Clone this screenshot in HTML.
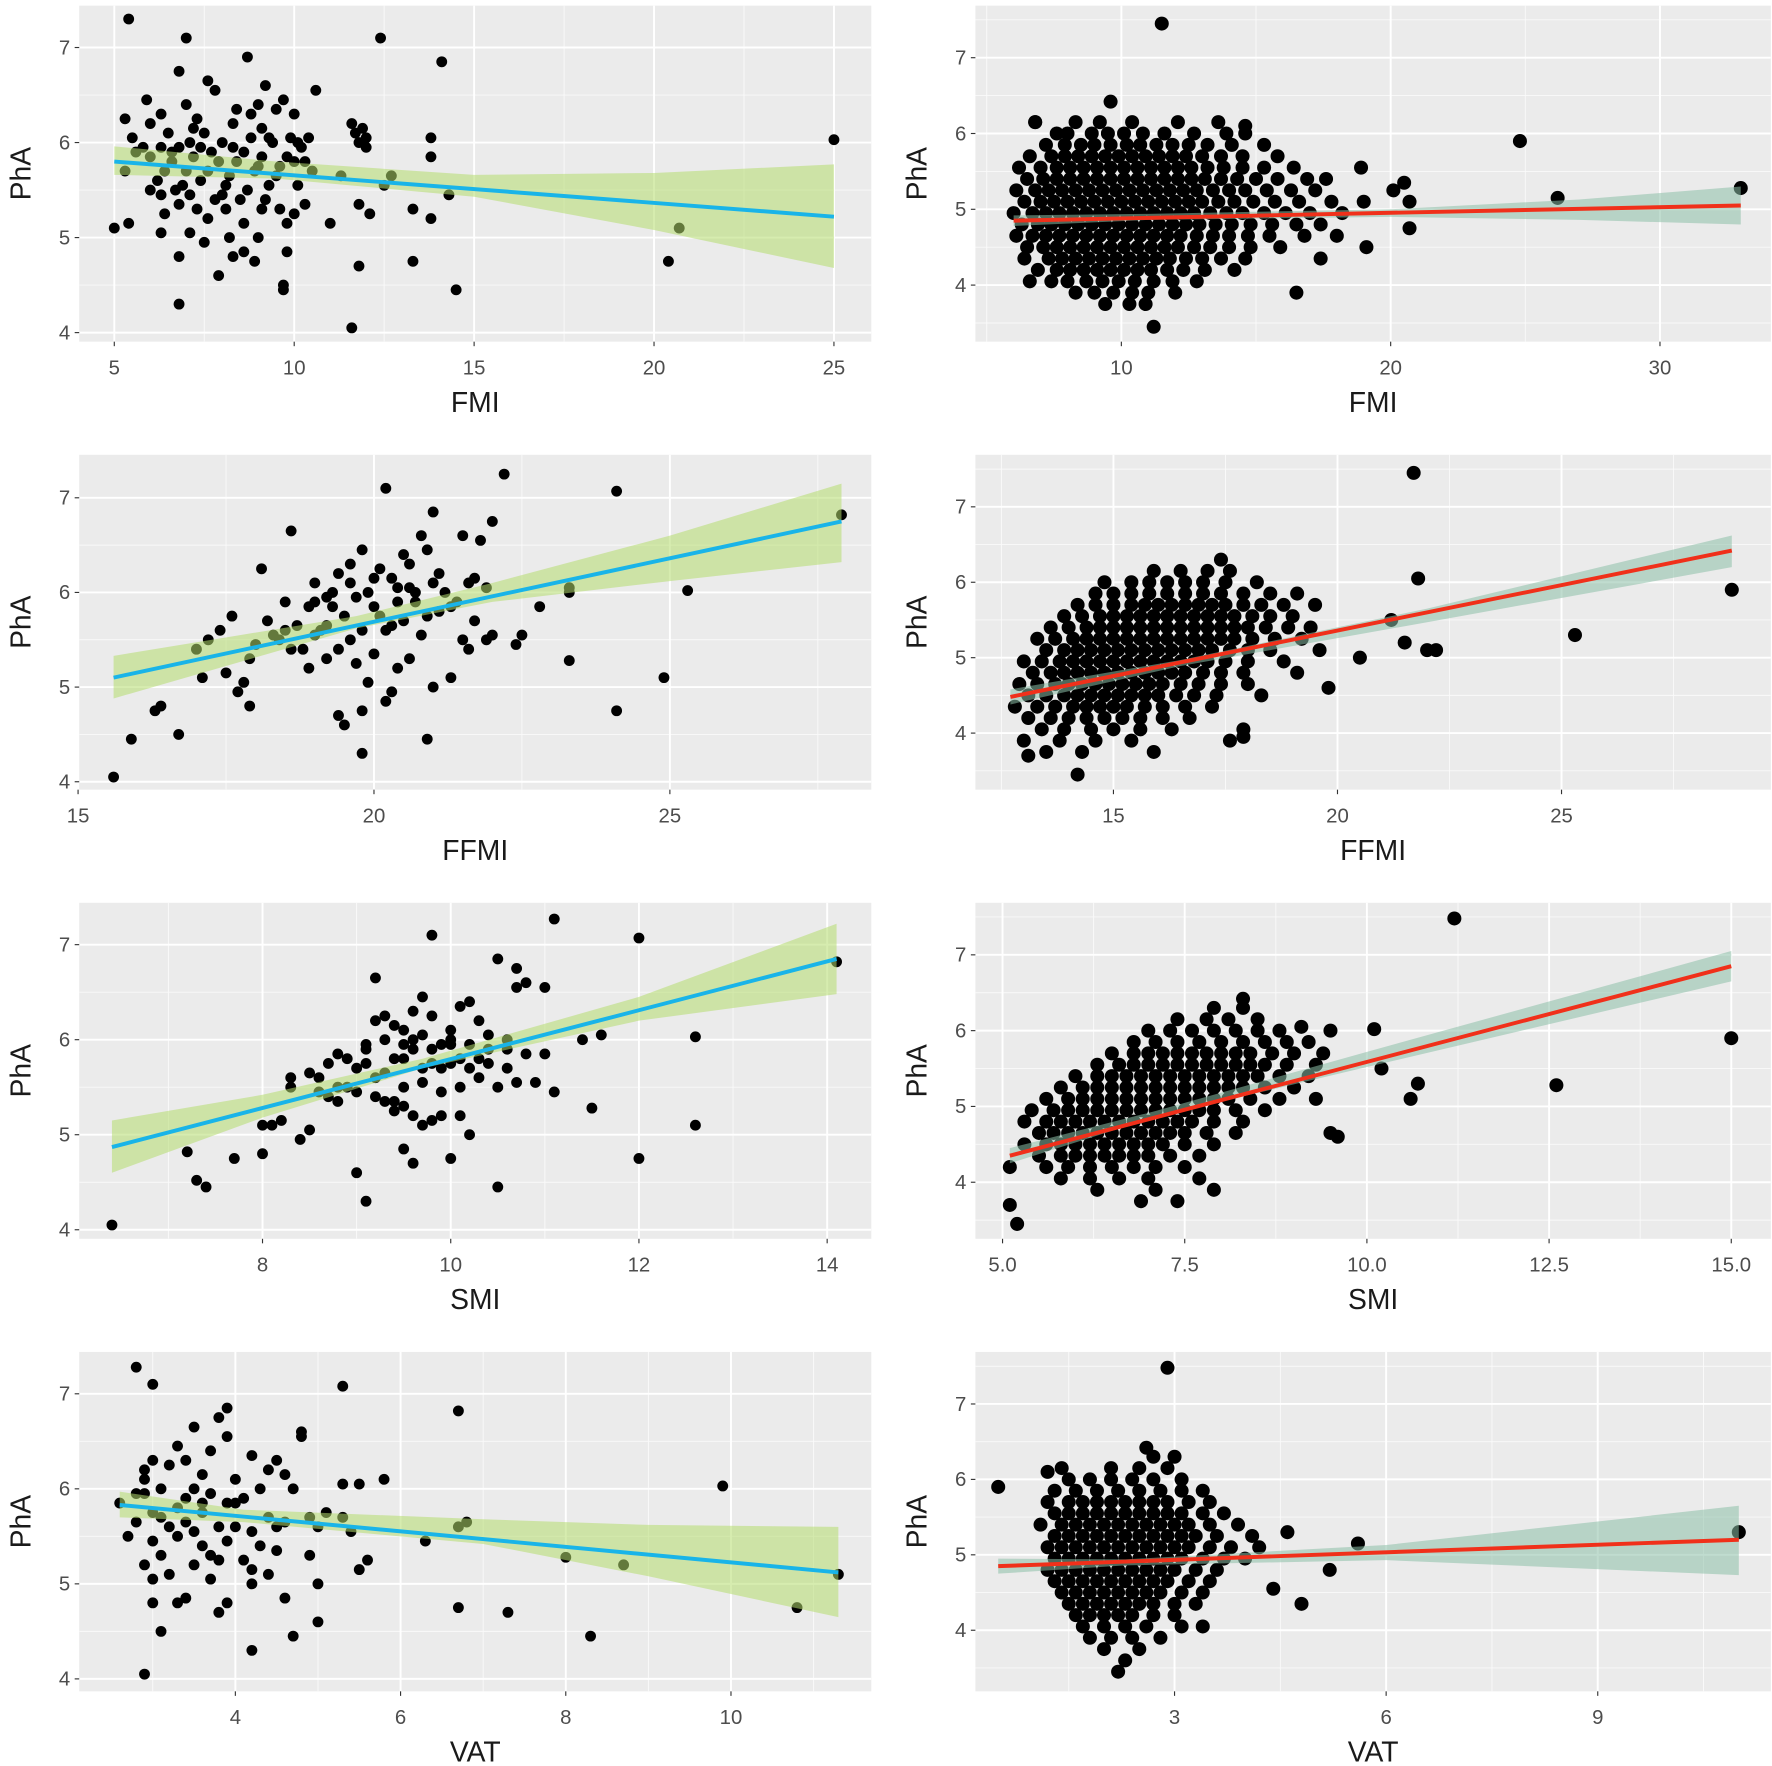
<!DOCTYPE html>
<html><head><meta charset="utf-8"><style>
html,body{margin:0;padding:0;background:#fff}
svg{display:block}
text{font-family:"Liberation Sans",Arial,sans-serif}
</style></head><body>
<svg id="chart" width="1772" height="1766" viewBox="0 0 1566 1561" preserveAspectRatio="none" xmlns="http://www.w3.org/2000/svg"></svg>
<script>
// ---------- DATA ----------
const yTicks = [4,5,6,7];
const fmiLTicks = [5,10,15,20,25];
const fmiRTicks = [10,20,30];
const ffmiLTicks = [15,20,25];
const ffmiRTicks = [15,20,25];
const smiLTicks = [8,10,12,14];
const smiRTicks = [5,7.5,10,12.5,15];
const vatLTicks = [4,6,8,10];
const vatRTicks = [3,6,9];

const fmiL = [[5.4,7.3],[7,7.1],[12.4,7.1],[14.1,6.85],[8.7,6.9],[6.8,6.75],[7.6,6.65],[7.8,6.55],[9.2,6.6],[9.7,6.45],[10.6,6.55],[5.9,6.45],[9.5,6.35],[10,6.3],[5.3,6.25],[6.3,6.3],[7.3,6.25],[8.3,6.2],[9.1,6.15],[11.6,6.2],[11.9,6.15],[12,6.05],[13.8,6.05],[11.8,6.0],[5.5,6.05],[6.5,6.1],[7.1,6.0],[7.5,6.1],[8.0,6.0],[8.8,6.05],[9.4,6.0],[10.4,6.05],[10.2,5.95],[6.3,5.95],[6.8,5.95],[7.7,5.9],[8.6,5.9],[9.8,5.85],[10.3,5.8],[13.8,5.85],[5.6,5.9],[6,5.85],[6.6,5.8],[7.2,5.85],[7.9,5.8],[8.4,5.8],[9.0,5.75],[9.6,5.75],[10,5.8],[5.3,5.7],[6.4,5.7],[7,5.7],[7.6,5.7],[8.2,5.65],[8.9,5.7],[9.5,5.65],[11.3,5.65],[12.7,5.65],[6.2,5.6],[6.9,5.55],[7.4,5.6],[8.1,5.55],[8.7,5.5],[9.3,5.55],[10.1,5.55],[12.5,5.55],[14.3,5.45],[6.3,5.45],[7.1,5.45],[7.8,5.4],[8.5,5.4],[9.2,5.4],[11.8,5.35],[6.8,5.35],[7.3,5.3],[8.1,5.3],[9.1,5.3],[10,5.25],[12.1,5.25],[13.3,5.3],[13.8,5.2],[6.4,5.25],[7.6,5.2],[8.6,5.15],[9.8,5.15],[11,5.15],[5.0,5.1],[5.4,5.15],[7.1,5.05],[7.5,4.95],[8.2,5.0],[9.0,5.0],[20.7,5.1],[6.3,5.05],[8.6,4.85],[9.8,4.85],[6.8,4.8],[8.3,4.8],[8.9,4.75],[11.8,4.7],[13.3,4.75],[20.4,4.75],[7.9,4.6],[9.7,4.5],[9.7,4.45],[14.5,4.45],[6.8,4.3],[11.6,4.05],[25,6.03],[6.6,5.9],[5.8,5.95],[9.9,6.05],[10.5,5.7],[7.4,5.95],[8.3,5.95],[9.1,5.85],[6,5.5],[6.7,5.5],[9.6,5.3],[10.3,5.35],[8.0,5.45],[9.0,6.4],[8.4,6.35],[7.0,6.4],[11.7,6.1],[12,5.95],[8.8,6.3],[6,6.2],[10.1,6.0],[7.2,6.15],[9.3,6.05]];
const fmiLLineX = [5,25], fmiLLineY = [5.8,5.22];
const fmiLBandX = [5,9.5,15,20,25], fmiLBandLo = [5.66,5.62,5.43,5.08,4.68], fmiLBandHi = [5.96,5.8,5.66,5.68,5.77];

const ffmiL = [[15.6,4.05],[15.9,4.45],[16.3,4.75],[16.4,4.8],[16.7,4.5],[17.1,5.1],[17.2,5.5],[17.4,5.6],[17.6,5.75],[17.5,5.15],[17.7,4.95],[17.8,5.05],[17.9,4.8],[18.0,5.45],[18.1,6.25],[18.4,5.5],[18.5,5.6],[18.6,6.65],[18.6,5.4],[18.8,5.4],[18.9,5.85],[19.0,5.55],[19.1,5.6],[19.2,5.95],[19.2,5.3],[19.3,6.0],[19.4,6.2],[19.5,5.75],[19.6,6.1],[19.6,5.5],[19.7,5.25],[19.8,6.45],[19.9,6.0],[20.0,5.85],[20.1,6.25],[20.2,5.6],[20.3,6.15],[20.4,6.05],[20.5,5.7],[20.6,6.3],[20.7,6.0],[20.8,5.55],[20.9,6.45],[21.0,6.1],[21.1,5.8],[21.2,6.0],[21.4,5.9],[21.5,6.6],[21.6,6.1],[21.8,6.55],[22.0,6.75],[22.2,7.25],[20.2,7.1],[21.0,6.85],[20.8,6.6],[18.9,5.2],[19.5,4.6],[19.8,4.3],[19.8,4.75],[20.2,4.85],[20.9,4.45],[21.0,5.0],[21.5,5.5],[22.4,5.45],[22.5,5.55],[22.8,5.85],[23.3,6.0],[23.3,5.28],[24.1,4.75],[24.1,7.07],[24.9,5.1],[25.3,6.02],[27.9,6.82],[23.3,6.05],[22.0,5.55],[21.7,5.7],[19.0,5.9],[18.7,5.65],[19.4,5.4],[20.0,5.35],[20.4,5.2],[20.6,5.3],[19.9,5.05],[20.3,5.65],[21.3,5.85],[21.9,5.5],[17.0,5.4],[17.9,5.3],[18.2,5.7],[19.6,6.3],[20.5,6.4],[20.0,6.15],[19.3,5.85],[18.5,5.9],[21.1,6.2],[20.7,5.9],[19.7,5.95],[20.1,5.75],[19.0,6.1],[21.3,5.1],[21.7,6.15],[20.4,5.9],[19.2,5.65],[20.9,5.75],[18.3,5.55],[19.8,5.6],[20.6,6.05],[21.9,6.05],[20.3,4.95],[19.4,4.7],[21.6,5.4]];
const ffmiLLineX = [15.6,27.9], ffmiLLineY = [5.1,6.75];
const ffmiLBandX = [15.6,19.7,22,25,27.9], ffmiLBandLo = [4.88,5.62,5.9,6.12,6.32], ffmiLBandHi = [5.33,5.75,6.1,6.6,7.15];

const smiL = [[6.4,4.05],[7.2,4.82],[7.3,4.52],[7.4,4.45],[7.7,4.75],[8.0,4.8],[8.0,5.1],[8.1,5.1],[8.2,5.15],[8.3,5.5],[8.3,5.6],[8.4,4.95],[8.5,5.05],[8.6,5.45],[8.6,5.6],[8.7,5.75],[8.8,5.35],[8.8,5.5],[8.9,5.8],[9.0,5.45],[9.0,4.6],[9.1,5.9],[9.1,4.3],[9.2,6.2],[9.2,5.6],[9.2,6.65],[9.3,5.35],[9.3,6.0],[9.4,5.8],[9.4,5.25],[9.5,6.1],[9.5,5.5],[9.5,4.85],[9.6,5.9],[9.6,5.2],[9.6,4.7],[9.7,6.05],[9.7,6.45],[9.7,5.7],[9.8,7.1],[9.8,6.25],[9.8,5.15],[9.9,5.95],[9.9,5.2],[10.0,6.0],[10.0,5.75],[10.0,4.75],[10.1,6.35],[10.1,5.5],[10.2,6.4],[10.2,5.0],[10.3,6.2],[10.3,5.8],[10.4,5.9],[10.5,6.85],[10.5,5.5],[10.5,4.45],[10.6,6.0],[10.7,6.55],[10.7,6.75],[10.7,5.55],[10.8,6.6],[10.9,5.55],[11.0,5.85],[11.0,6.55],[11.1,7.27],[11.1,5.45],[11.4,6.0],[11.5,5.28],[11.6,6.05],[12.0,7.07],[12.0,4.75],[12.6,6.03],[12.6,5.1],[14.1,6.82],[8.5,5.65],[8.9,5.5],[9.1,5.75],[9.3,5.65],[9.4,6.15],[9.5,5.95],[9.6,6.3],[9.9,5.7],[10.0,6.1],[10.1,5.8],[10.2,5.7],[10.4,6.05],[10.6,5.7],[9.2,5.4],[9.4,5.35],[9.7,5.55],[9.9,5.45],[10.1,5.2],[10.3,5.6],[8.7,5.4],[9.0,5.7],[9.5,5.8],[9.8,5.9],[10.0,5.95],[9.7,5.1],[9.5,5.3],[9.3,6.25],[10.6,5.9],[10.8,5.85],[9.6,6.0],[9.8,5.75],[10.2,5.95],[10.4,5.75],[9.1,5.95],[8.8,5.85]];
const smiLLineX = [6.4,14.1], smiLLineY = [4.87,6.85];
const smiLBandX = [6.4,8,9.7,12,14.1], smiLBandLo = [4.6,5.18,5.7,6.2,6.48], smiLBandHi = [5.15,5.42,5.8,6.45,7.22];

const vatL = [[2.8,7.28],[3.0,7.1],[5.3,7.08],[6.7,6.82],[3.9,6.85],[3.8,6.75],[3.5,6.65],[4.8,6.6],[4.8,6.55],[3.3,6.45],[3.9,6.55],[4.5,6.3],[4.2,6.35],[3.0,6.3],[2.9,6.2],[3.2,6.25],[3.6,6.15],[4.4,6.2],[5.3,6.05],[5.8,6.1],[5.5,6.05],[9.9,6.03],[2.6,5.85],[2.9,5.95],[3.1,6.0],[3.4,5.9],[3.7,5.95],[4.0,5.85],[4.3,6.0],[4.7,6.0],[3.0,5.75],[3.3,5.8],[3.6,5.75],[3.9,5.85],[4.1,5.9],[4.4,5.7],[4.9,5.7],[5.1,5.75],[5.3,5.7],[2.8,5.65],[3.2,5.6],[3.5,5.55],[3.8,5.6],[4.2,5.55],[4.6,5.65],[5.0,5.6],[5.4,5.55],[6.3,5.45],[6.7,5.6],[6.8,5.65],[2.7,5.5],[3.0,5.45],[3.3,5.5],[3.6,5.4],[3.9,5.45],[4.3,5.4],[4.5,5.35],[5.6,5.25],[3.1,5.3],[3.7,5.3],[4.1,5.25],[2.9,5.2],[3.2,5.1],[3.0,5.05],[3.7,5.05],[4.2,5.15],[5.5,5.15],[8.0,5.28],[8.7,5.2],[11.3,5.1],[3.0,4.8],[3.3,4.8],[3.9,4.8],[4.6,4.85],[3.8,4.7],[4.2,5.0],[6.7,4.75],[7.3,4.7],[3.1,4.5],[4.7,4.45],[5.0,4.6],[4.2,4.3],[8.3,4.45],[10.8,4.75],[2.9,4.05],[3.4,4.85],[3.5,6.0],[4.0,6.1],[3.4,6.3],[4.0,5.6],[3.8,5.25],[4.5,5.6],[2.8,5.95],[3.1,5.7],[3.4,5.65],[3.6,5.85],[4.9,5.3],[5.0,5.0],[4.4,5.1],[3.5,5.2],[2.9,6.1],[3.7,6.4],[4.6,6.15]];
const vatLLineX = [2.6,11.3], vatLLineY = [5.83,5.12];
const vatLBandX = [2.6,4.1,7,9,11.3], vatLBandLo = [5.7,5.65,5.42,5.08,4.65], vatLBandHi = [5.97,5.78,5.68,5.62,5.6];

const fmiRRowPhA = [6.15,6.0,5.85,5.7,5.55,5.4,5.25,5.1,4.95,4.8,4.65,4.5,4.35,4.2,4.05,3.9,3.75];
const fmiRRowX = [[6.8,8.3,9.2,10.4,12.1,13.6],[7.6,8.0,8.9,9.5,10.1,10.8,11.6,12.7,13.9,14.6],[7.2,7.9,8.5,9.0,9.6,10.2,10.7,11.3,11.9,12.5,13.2,14.1,15.3],[6.6,7.4,7.9,8.4,8.9,9.4,9.9,10.4,10.9,11.4,11.9,12.4,13.0,13.7,14.5,15.8],[6.2,7.0,7.6,8.1,8.6,9.1,9.6,10.1,10.6,11.1,11.6,12.1,12.6,13.2,13.8,14.5,15.3,16.4,18.9],[6.5,7.1,7.6,8.1,8.6,9.1,9.6,10.1,10.6,11.1,11.6,12.1,12.6,13.1,13.7,14.3,15.0,15.8,16.9,17.6],[6.1,6.8,7.3,7.8,8.3,8.8,9.3,9.8,10.3,10.8,11.3,11.8,12.3,12.8,13.4,14.0,14.6,15.4,16.3,17.2,20.1],[6.4,7.0,7.5,8.0,8.5,9.0,9.5,10.0,10.5,11.0,11.5,12.0,12.5,13.0,13.6,14.2,14.9,15.7,16.6,17.8,19.0],[6.0,6.7,7.2,7.7,8.2,8.7,9.2,9.7,10.2,10.7,11.2,11.7,12.2,12.7,13.3,13.9,14.5,15.3,16.1,17.0,18.2],[6.3,6.9,7.4,7.9,8.4,8.9,9.4,9.9,10.4,10.9,11.4,11.9,12.4,12.9,13.5,14.1,14.8,15.6,16.5,17.4],[6.1,6.7,7.2,7.7,8.2,8.7,9.2,9.7,10.2,10.7,11.2,11.7,12.2,12.8,13.4,14.0,14.7,15.5,16.8,18.0],[6.5,7.1,7.6,8.1,8.6,9.1,9.6,10.1,10.6,11.1,11.6,12.1,12.7,13.3,14.0,14.8,15.9,19.1],[6.4,7.3,7.8,8.3,8.8,9.3,9.8,10.3,10.8,11.3,11.8,12.4,13.0,13.7,14.6,17.4],[6.9,7.6,8.1,8.6,9.1,9.6,10.1,10.6,11.1,11.7,12.3,13.1,14.2],[6.6,7.4,8.0,8.7,9.3,9.9,10.5,11.2,11.9,12.8],[8.3,9.0,9.7,10.4,11.0,12.0],[9.4,10.3,10.9]];
const fmiRExtra = [[11.5,7.45],[9.6,6.42],[6.8,6.15],[14.6,6.1],[24.8,5.9],[26.2,5.15],[33,5.28],[20.7,4.75],[20.5,5.35],[20.7,5.1],[11.2,3.45],[16.5,3.9]];
const fmiRLineX = [6,33], fmiRLineY = [4.85,5.05];
const fmiRBandX = [6,11,20,27,33], fmiRBandLo = [4.78,4.86,4.9,4.86,4.8], fmiRBandHi = [4.92,4.94,5.0,5.13,5.3];

const ffmiRRowPhA = [6.3,6.15,6.0,5.85,5.7,5.55,5.4,5.25,5.1,4.95,4.8,4.65,4.5,4.35,4.2,4.05,3.9,3.75];
const ffmiRRowX = [[17.4],[15.9,16.5,17.1,17.6],[14.8,15.4,15.8,16.2,16.6,17.0,17.5,18.2],[14.6,15.0,15.4,15.8,16.2,16.6,17.0,17.4,17.9,18.5,19.1],[14.2,14.6,15.0,15.4,15.7,16.0,16.3,16.6,16.9,17.2,17.5,17.9,18.3,18.8,19.5],[13.9,14.3,14.7,15.0,15.3,15.6,15.9,16.2,16.5,16.8,17.1,17.4,17.7,18.1,18.5,19.0],[13.6,14.0,14.4,14.7,15.0,15.3,15.6,15.9,16.2,16.5,16.8,17.1,17.4,17.7,18.0,18.4,18.9,19.4],[13.3,13.7,14.1,14.4,14.7,15.0,15.3,15.6,15.9,16.2,16.5,16.8,17.1,17.4,17.7,18.1,18.6,19.2],[13.5,13.9,14.2,14.5,14.8,15.1,15.4,15.7,16.0,16.3,16.6,16.9,17.2,17.6,18.0,18.5,19.6],[13.0,13.4,13.8,14.1,14.4,14.7,15.0,15.3,15.6,15.9,16.2,16.5,16.8,17.1,17.5,18.0,18.8],[13.2,13.6,13.9,14.2,14.5,14.8,15.1,15.4,15.7,16.0,16.3,16.6,17.0,17.4,17.9,19.1],[12.9,13.3,13.7,14.0,14.3,14.6,14.9,15.2,15.5,15.8,16.1,16.5,16.9,17.4,18.0],[13.1,13.5,13.9,14.2,14.5,14.8,15.1,15.4,15.7,16.0,16.4,16.8,17.3,18.3],[12.8,13.3,13.7,14.1,14.4,14.7,15.0,15.3,15.7,16.1,16.6,17.2],[13.1,13.6,14.0,14.4,14.8,15.2,15.6,16.1,16.7],[13.4,13.9,14.5,15.0,15.6,16.3,17.9],[13.0,13.8,14.6,15.4,17.6],[13.5,14.3,15.9]];
const ffmiRExtra = [[21.7,7.45],[28.8,5.9],[25.3,5.3],[21.8,6.05],[22,5.1],[21.5,5.2],[22.2,5.1],[21.2,5.5],[20.5,5.0],[19.8,4.6],[14.2,3.45],[17.9,3.95],[13.1,3.7]];
const ffmiRLineX = [12.7,28.8], ffmiRLineY = [4.48,6.42];
const ffmiRBandX = [12.7,16.5,22,28.8], ffmiRBandLo = [4.38,4.89,5.47,6.2], ffmiRBandHi = [4.58,4.97,5.65,6.62];

const smiRRowPhA = [6.3,6.15,6.0,5.85,5.7,5.55,5.4,5.25,5.1,4.95,4.8,4.65,4.5,4.35,4.2,4.05,3.9,3.75];
const smiRRowX = [[7.9,8.3],[7.4,7.8,8.1,8.5],[7.0,7.3,7.6,7.9,8.2,8.5,8.8,9.5],[6.8,7.1,7.4,7.7,8.0,8.3,8.6,8.9,9.2],[6.5,6.8,7.0,7.2,7.4,7.6,7.8,8.0,8.2,8.4,8.7,9.0,9.4],[6.3,6.6,6.8,7.0,7.2,7.4,7.6,7.8,8.0,8.2,8.4,8.6,8.9,9.3],[6.0,6.3,6.5,6.7,6.9,7.1,7.3,7.5,7.7,7.9,8.1,8.3,8.5,8.8,9.2],[5.8,6.1,6.3,6.5,6.7,6.9,7.1,7.3,7.5,7.7,7.9,8.1,8.3,8.6,9.0],[5.6,5.9,6.1,6.3,6.5,6.7,6.9,7.1,7.3,7.5,7.7,7.9,8.1,8.4,8.8,9.3],[5.4,5.7,5.9,6.1,6.3,6.5,6.7,6.9,7.1,7.3,7.5,7.7,7.9,8.2,8.6],[5.3,5.6,5.8,6.0,6.2,6.4,6.6,6.8,7.0,7.2,7.4,7.6,7.9,8.3],[5.5,5.7,5.9,6.1,6.3,6.5,6.7,6.9,7.1,7.3,7.5,7.8,8.2,9.5],[5.3,5.6,5.8,6.0,6.2,6.4,6.6,6.8,7.0,7.2,7.5,7.9],[5.5,5.8,6.0,6.2,6.4,6.6,6.8,7.0,7.3,7.7],[5.6,5.9,6.2,6.5,6.8,7.1,7.5],[5.8,6.2,6.6,7.0,7.7],[6.3,7.1,7.9],[6.9,7.4]];
const smiRExtra = [[11.2,7.48],[15,5.9],[12.6,5.28],[10.1,6.02],[10.7,5.3],[10.6,5.1],[10.2,5.5],[9.6,4.6],[9.1,6.05],[8.3,6.42],[5.1,3.7],[5.2,3.45],[5.1,4.2]];
const smiRLineX = [5.1,15], smiRLineY = [4.35,6.85];
const smiRBandX = [5.1,7.1,10,15], smiRBandLo = [4.25,4.86,5.52,6.65], smiRBandHi = [4.45,4.94,5.72,7.05];

const vatRRowPhA = [6.3,6.15,6.0,5.85,5.7,5.55,5.4,5.25,5.1,4.95,4.8,4.65,4.5,4.35,4.2,4.05,3.9,3.75,3.6];
const vatRRowX = [[2.7,3.0],[1.4,2.1,2.5,2.9],[1.5,1.8,2.1,2.4,2.7,3.1],[1.3,1.6,1.9,2.2,2.5,2.8,3.1,3.4],[1.2,1.5,1.7,1.9,2.1,2.3,2.5,2.7,2.9,3.2,3.5],[1.3,1.5,1.7,1.9,2.1,2.3,2.5,2.7,2.9,3.1,3.4,3.7],[1.1,1.4,1.6,1.8,2.0,2.2,2.4,2.6,2.8,3.0,3.2,3.5,3.9],[1.3,1.5,1.7,1.9,2.1,2.3,2.5,2.7,2.9,3.1,3.3,3.6,4.1],[1.2,1.4,1.6,1.8,2.0,2.2,2.4,2.6,2.8,3.0,3.2,3.5,3.8],[1.3,1.5,1.7,1.9,2.1,2.3,2.5,2.7,2.9,3.1,3.4,3.7,4.0],[1.2,1.4,1.6,1.8,2.0,2.2,2.4,2.6,2.8,3.0,3.3,3.6],[1.3,1.5,1.7,1.9,2.1,2.3,2.5,2.7,2.9,3.2,3.5],[1.4,1.6,1.8,2.0,2.2,2.4,2.6,2.8,3.1,3.4],[1.5,1.7,1.9,2.1,2.3,2.5,2.7,3.0,3.3],[1.6,1.8,2.0,2.2,2.4,2.7,3.0],[1.7,2.0,2.3,2.6,3.1,3.4],[1.8,2.1,2.4,2.8],[2.0,2.5],[2.3]];
const vatRExtra = [[2.9,7.48],[0.5,5.9],[11,5.3],[5.6,5.15],[5.2,4.8],[4.8,4.35],[4.6,5.3],[4.4,4.55],[2.6,6.42],[1.2,6.1],[2.2,3.45],[4.2,5.1]];
const vatRLineX = [0.5,11], vatRLineY = [4.85,5.2];
const vatRBandX = [0.5,2.3,6,11], vatRBandLo = [4.75,4.86,4.93,4.73], vatRBandHi = [4.95,4.94,5.13,5.65];

// ---------- RENDER ----------
const NS = 'http://www.w3.org/2000/svg';
const svg = document.getElementById('chart');
function mk(tag, attrs, parent){ const e=document.createElementNS(NS,tag); for(const k in attrs) e.setAttribute(k,attrs[k]); (parent||svg).appendChild(e); return e; }
function rowsToPts(ys, xs){ const out=[]; ys.forEach((y,i)=>xs[i].forEach(x=>out.push([x,y]))); return out; }

const panels = [
 {name:'fmi-left', box:[70,5,770,302], xm:[5,101,25,737], ym:[7,42,4,294], xt:fmiLTicks, title:'FMI', pts:fmiL, lx:fmiLLineX, ly:fmiLLineY, bx:fmiLBandX, blo:fmiLBandLo, bhi:fmiLBandHi, side:'L'},
 {name:'fmi-right', box:[862,5,1565,302], xm:[10,991,30,1467], ym:[7,51,4,252], xt:fmiRTicks, title:'FMI', pts:rowsToPts(fmiRRowPhA,fmiRRowX).concat(fmiRExtra), lx:fmiRLineX, ly:fmiRLineY, bx:fmiRBandX, blo:fmiRBandLo, bhi:fmiRBandHi, side:'R'},
 {name:'ffmi-left', box:[70,402,770,698], xm:[15,69,25,592], ym:[7,440,4,691], xt:ffmiLTicks, title:'FFMI', pts:ffmiL, lx:ffmiLLineX, ly:ffmiLLineY, bx:ffmiLBandX, blo:ffmiLBandLo, bhi:ffmiLBandHi, side:'L'},
 {name:'ffmi-right', box:[862,402,1565,698], xm:[15,984,25,1380], ym:[7,448,4,648], xt:ffmiRTicks, title:'FFMI', pts:rowsToPts(ffmiRRowPhA,ffmiRRowX).concat(ffmiRExtra), lx:ffmiRLineX, ly:ffmiRLineY, bx:ffmiRBandX, blo:ffmiRBandLo, bhi:ffmiRBandHi, side:'R'},
 {name:'smi-left', box:[70,798,770,1095], xm:[8,232,14,731], ym:[7,835,4,1087], xt:smiLTicks, title:'SMI', pts:smiL, lx:smiLLineX, ly:smiLLineY, bx:smiLBandX, blo:smiLBandLo, bhi:smiLBandHi, side:'L'},
 {name:'smi-right', box:[862,798,1565,1095], xm:[5,886,15,1530], ym:[7,844,4,1045], xt:smiRTicks, fmt:1, title:'SMI', pts:rowsToPts(smiRRowPhA,smiRRowX).concat(smiRExtra), lx:smiRLineX, ly:smiRLineY, bx:smiRBandX, blo:smiRBandLo, bhi:smiRBandHi, side:'R'},
 {name:'vat-left', box:[70,1195,770,1495], xm:[4,208,10,646], ym:[7,1232,4,1484], xt:vatLTicks, title:'VAT', pts:vatL, lx:vatLLineX, ly:vatLLineY, bx:vatLBandX, blo:vatLBandLo, bhi:vatLBandHi, side:'L'},
 {name:'vat-right', box:[862,1195,1565,1495], xm:[3,1038,9,1412], ym:[7,1241,4,1441], xt:vatRTicks, title:'VAT', pts:rowsToPts(vatRRowPhA,vatRRowX).concat(vatRExtra), lx:vatRLineX, ly:vatRLineY, bx:vatRBandX, blo:vatRBandLo, bhi:vatRBandHi, side:'R'}
];

panels.forEach(p=>{
  const [x0,y0,x1,y1]=p.box;
  const sx = v => p.xm[1] + (v-p.xm[0])*(p.xm[3]-p.xm[1])/(p.xm[2]-p.xm[0]);
  const sy = v => p.ym[1] + (v-p.ym[0])*(p.ym[3]-p.ym[1])/(p.ym[2]-p.ym[0]);
  const g = mk('g',{});
  
  
  const clipId='clip-'+p.name;
  const cp=mk('clipPath',{id:clipId},g); mk('rect',{x:x0,y:y0,width:x1-x0,height:y1-y0},cp);
  const bg=mk('rect',{x:x0,y:y0,width:x1-x0,height:y1-y0,fill:'#ebebeb'},g);
  
  
  const grid=mk('g',{'clip-path':'url(#'+clipId+')'},g);
  
  
  const xs=p.xt, st=xs[1]-xs[0];
  const xMinor=[xs[0]-st/2].concat(xs.map(v=>v+st/2));
  xMinor.forEach(v=>mk('line',{x1:sx(v),x2:sx(v),y1:y0,y2:y1,stroke:'#fafafa','stroke-width':0.8},grid));
  [3.5,4.5,5.5,6.5,7.5].forEach(v=>mk('line',{x1:x0,x2:x1,y1:sy(v),y2:sy(v),stroke:'#fafafa','stroke-width':0.8},grid));
  xs.forEach(v=>mk('line',{x1:sx(v),x2:sx(v),y1:y0,y2:y1,stroke:'#ffffff','stroke-width':1.7},grid));
  yTicks.forEach(v=>mk('line',{x1:x0,x2:x1,y1:sy(v),y2:sy(v),stroke:'#ffffff','stroke-width':1.7},grid));
  xs.forEach(v=>{
    mk('line',{x1:sx(v),x2:sx(v),y1:y1,y2:y1+4,stroke:'#333','stroke-width':1},g);
    const t=mk('text',{x:sx(v),y:y1+29,'text-anchor':'middle','font-size':18,fill:'#4d4d4d'},g);
    t.textContent = p.fmt ? v.toFixed(1) : String(v);
    
    
  });
  yTicks.forEach(v=>{
    mk('line',{x1:x0-4,x2:x0,y1:sy(v),y2:sy(v),stroke:'#333','stroke-width':1},g);
    const t=mk('text',{x:x0-8,y:sy(v)+6,'text-anchor':'end','font-size':18,fill:'#4d4d4d'},g);
    t.textContent=String(v);
    
    
  });
  const xt=mk('text',{x:(x0+x1)/2,y:y1+62,'text-anchor':'middle','font-size':25,fill:'#1a1a1a'},g);
  xt.textContent=p.title;
  
  
  const yc=(y0+y1)/2, yx=x0-52;
  const yt=mk('text',{x:yx,y:yc+9,'text-anchor':'middle','font-size':25,fill:'#1a1a1a',transform:'rotate(-90 '+yx+' '+yc+')'},g);
  yt.textContent='PhA';
  
  
  const pg=mk('g',{'clip-path':'url(#'+clipId+')'},g);
  
  
  const rad = p.side==='L' ? 4.8 : 6.2;
  p.pts.forEach(d=>{
    const c=mk('circle',{cx:sx(d[0]),cy:sy(d[1]),r:rad,fill:'#000'},pg);
    
    
  });
  let dstr='M'+p.bx.map((v,i)=>sx(v)+','+sy(p.bhi[i])).join(' L');
  dstr+=' L'+p.bx.slice().reverse().map((v,i)=>{const j=p.bx.length-1-i; return sx(v)+','+sy(p.blo[j]);}).join(' L')+' Z';
  const band=mk('path',{d:dstr,fill:p.side==='L'?'#b5dc6e':'#8cc0a8','fill-opacity':0.55},g);
  
  
  const ln=mk('line',{x1:sx(p.lx[0]),y1:sy(p.ly[0]),x2:sx(p.lx[1]),y2:sy(p.ly[1]),stroke:p.side==='L'?'#19b4e8':'#f0301a','stroke-width':3.5},g);
  
  
});
</script>
</body></html>
